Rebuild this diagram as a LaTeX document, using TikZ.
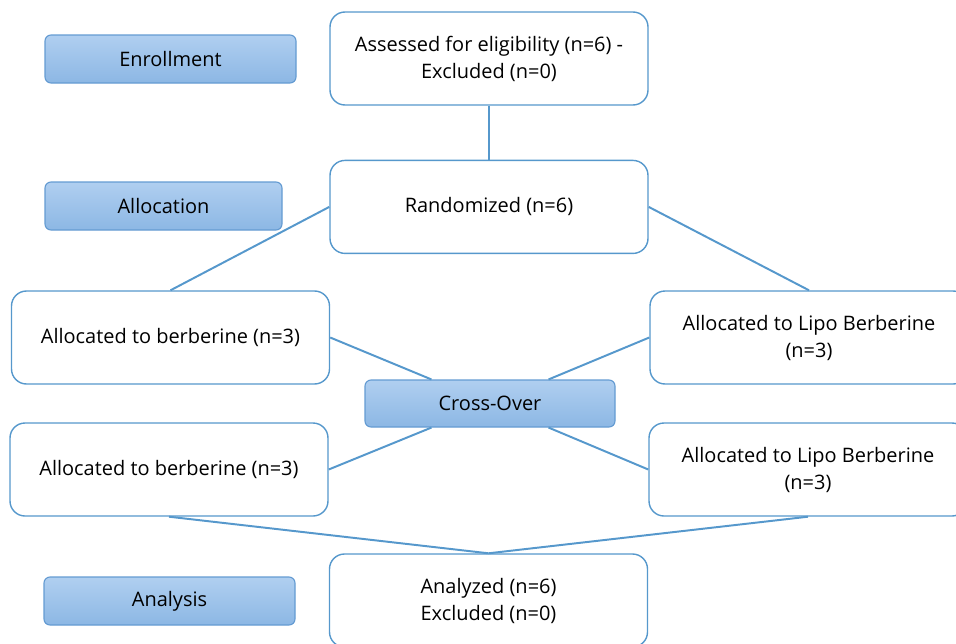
\documentclass[tikz,border=0pt]{standalone}
\usepackage{fontspec}
\setmainfont{Open Sans}
\usetikzlibrary{positioning}
\definecolor{lineblue}{RGB}{86,152,204}
\definecolor{labeltop}{RGB}{176,207,240}
\definecolor{labelbot}{RGB}{140,183,228}
\definecolor{labeledge}{RGB}{100,155,210}
\tikzstyle{box}=[draw=lineblue, line width=1pt, fill=white, rounded corners=0.375cm,
minimum width=7.95cm, minimum height=2.325cm, align=center, inner sep=2pt,
font=\fontsize{14.2}{19.2}\selectfont]
\tikzstyle{stage}=[draw=labeledge, line width=0.8pt, rounded corners=0.15cm,
top color=labeltop, bottom color=labelbot, minimum width=6.275cm, minimum height=1.2cm,
font=\fontsize{14.2}{19.2}\selectfont]

\begin{document}
\begin{tikzpicture}
	[link/.style = {draw=lineblue, line width=1.4pt}]
	\useasboundingbox (0,0) rectangle (23.9,-16.075);
	\node[stage] (e) at (4.2625,-1.475) {Enrollment};
	\node[stage, minimum width=5.925cm] (al) at (4.0875,-5.15) {Allocation};
	\node[stage, minimum width=6.25cm, minimum height=1.175cm] (5) at (12.25,-10.0875) {Cross-Over};
	\node[stage] (an) at (4.2375,-15.025) {Analysis};

	\node[box] (1) at (12.225,-1.4625) {Assessed for eligibility (n=6) -\\Excluded (n=0)};
	\node[box] (2) [below=1.35cm of 1] {Randomized (n=6)};
	\node[box] (3) at (4.2625,-8.4375) {Allocated to berberine (n=3)};
	\node[box] (4) at (20.225,-8.4375) {Allocated to Lipo Berberine\\(n=3)};
	\node[box] (6) at (4.225,-11.7375) {Allocated to berberine (n=3)};
	\node[box] (7) at (20.2,-11.7375) {Allocated to Lipo Berberine\\(n=3)};
	\node[box] (8) at (12.2125,-15.0125) {Analyzed (n=6)\\Excluded (n=0)};

	\draw[link] (1) -- (2);
	\draw[link] (2.west) -- (3.north);
	\draw[link] (2.east) -- (4.north);
	\draw[link] (3.east) -- ([xshift=1.675cm]5.north west);
	\draw[link] (4.west) -- ([xshift=-1.675cm]5.north east);
	\draw[link] ([xshift=1.675cm]5.south west) -- (6.east);
	\draw[link] ([xshift=-1.675cm]5.south east) -- (7.west);
	\draw[link] (6.south) -- (8.north);
	\draw[link] (7.south) -- (8.north);
\end{tikzpicture}
\end{document}
